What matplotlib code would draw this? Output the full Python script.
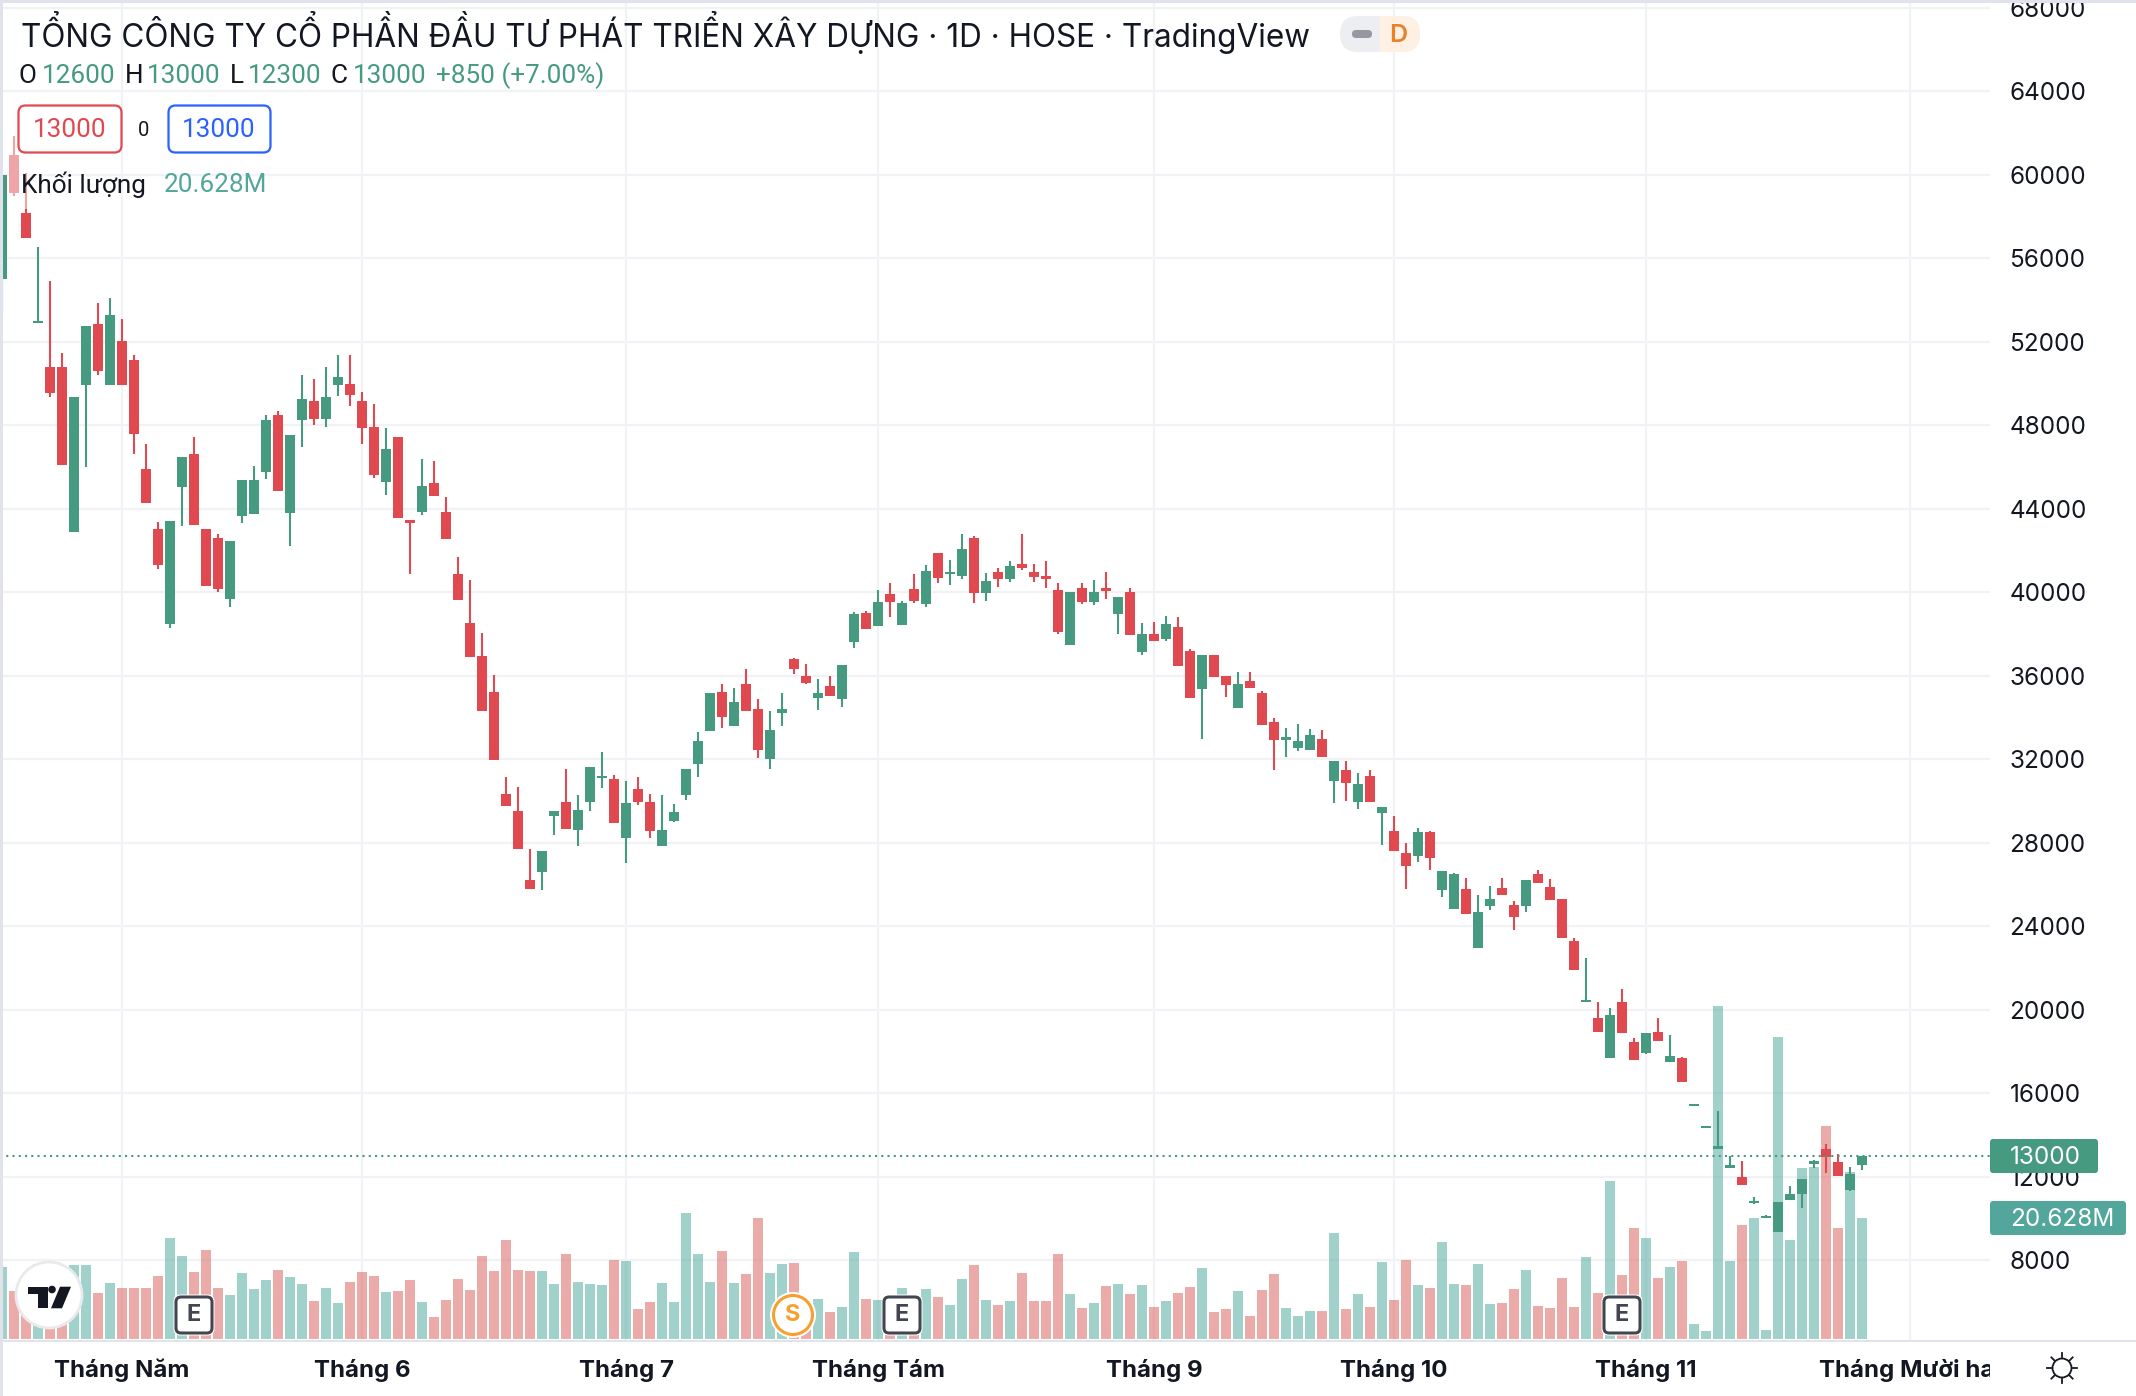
import numpy as np
import matplotlib
matplotlib.use("Agg")
import matplotlib.pyplot as plt
from matplotlib.patches import FancyBboxPatch, Rectangle, Circle, Polygon
from matplotlib.transforms import Bbox

W, H = 2136, 1396
FONT = ['Inter', 'Noto Sans', 'DejaVu Sans']
NARROW = ['Roboto', 'Noto Sans', 'DejaVu Sans']
plt.rcParams['font.family'] = FONT

# ---------- data ----------
opens = [55000,60940,58150,52900,50780,50780,42880,49930,52850,49930,52030,51130,45910,43040,38470,45040,46630,43040,42600,39670,
43650,43720,45760,48490,43810,48220,49160,48300,49930,49980,49160,47910,45280,47430,43420,43820,45240,43860,40880,38530,
36940,35220,30320,29500,26190,26580,29260,29940,28590,29940,31070,31040,28210,30560,29940,27820,29020,30270,31760,33340,
35220,33580,35600,34400,32000,34210,36800,35980,34930,35500,34880,37620,39010,38380,39920,38430,40160,39440,41890,40880,
40780,42610,39970,40980,40640,41360,40980,40780,40110,37470,40210,39540,40210,38960,40010,37130,38000,37760,38330,37180,
35360,36990,35980,34450,35740,35170,33770,32910,32530,32430,32960,30940,31470,29930,31180,29410,28540,27490,27340,28490,
25710,24800,25760,22930,24940,25810,24990,24940,26480,25850,25280,23260,20360,19580,17670,20380,18460,17900,18940,17490,
17680,15360,14300,13330,12430,11970,10750,10030,9330,10860,11150,12620,13310,12690,11340,12540]
highs = [60000,61850,60070,56530,54900,51470,49350,52750,53860,54100,53090,51360,47110,43360,43400,46470,47430,43040,42800,42450,
45380,46050,48490,48680,47530,50410,50220,50780,51360,51360,49590,49020,47880,47430,43420,46390,46290,44560,41700,40590,
38050,36030,31140,30660,27680,27580,29500,31520,30270,31620,32340,31230,30940,31140,30320,30270,29840,31520,33300,35170,
35600,35410,36320,34880,34300,35170,36850,36560,35840,35980,36510,39060,39100,40110,40450,39580,40880,41310,41890,41550,
42800,42700,40930,41170,41500,42800,41360,41500,40450,40020,40450,40590,40980,39770,40210,38530,38570,38860,38810,37280,
36990,36990,35980,36170,36170,35260,33970,33490,33680,33440,33390,31900,31900,31330,31470,29690,29260,27970,28690,28540,
26620,26530,26290,25470,25900,26290,25180,26190,26670,26240,25280,23450,22450,20380,20090,20960,18650,18860,19610,18780,
17730,15470,14410,15140,12980,12740,11010,10140,10770,11540,11870,12780,13550,13070,12450,13000]
lows = [53430,58990,56940,52900,49350,46100,42880,45990,50400,49930,49930,46630,44290,41100,38300,43170,43230,40300,40000,39300,
43290,43720,45400,44850,42230,46950,48010,47910,49400,48920,47110,45480,44660,43570,40850,43700,44610,42560,39630,36900,
34300,31950,29740,27680,25760,25710,28350,28640,27820,29500,30610,28930,27010,29790,28210,27820,28980,30030,31140,33340,
33490,33580,34300,32050,31520,33580,36080,35600,34350,35020,34500,37330,38240,38380,38820,38430,39490,39300,40450,40350,
40640,39490,39580,40260,40500,41070,40500,40210,38000,37470,39440,39390,39680,38000,37950,36990,37660,37660,36460,34930,
32960,35930,34970,34450,35410,33630,31470,32090,32380,32430,32090,29890,29980,29600,29930,27870,27580,25760,27050,26670,
25370,24800,24560,22930,24750,25470,23790,24650,26050,25230,23450,21870,20350,18940,17670,18890,17600,17850,18510,17490,
16530,15360,14300,13330,12400,11580,10700,10030,9330,10860,10480,12430,12160,12020,11300,12300]
closes = [60000,59130,56940,53000,49550,46100,49350,52750,50600,53280,49930,47590,44290,41290,43400,46470,43230,40300,40170,42450,
45380,45380,48250,44850,47530,49260,48300,49350,50300,49450,47880,45620,46870,43570,43330,45090,44610,42560,39630,36900,
34300,31950,29740,27680,25760,27580,29500,28640,29550,31620,31170,28930,29890,29940,28540,28590,29460,31520,32860,35170,
34020,34740,34300,32430,33390,34400,36320,35650,35170,35020,36510,38960,38240,39540,39540,39490,39580,41020,40690,40980,
42080,39970,40540,40640,41260,41170,40740,40640,38100,40020,39540,40020,40060,39770,37950,38000,37660,38480,36460,34930,
36990,35930,35550,35600,35410,33630,32910,33050,32860,33150,32090,31900,30850,30800,29930,29690,27580,26860,28490,27250,
26620,26480,24560,24650,25280,25470,24410,26190,26050,25230,23450,21870,20450,18940,19760,18890,17600,18860,18510,17780,
16530,15460,14400,13440,12510,11580,10850,10130,10770,11150,11870,12720,12930,12020,12110,13000]
volumes = [12.3,8.2,7.8,12.8,10.0,9.5,12.6,12.6,7.8,9.5,8.7,8.7,8.7,10.7,17.2,14.1,11.4,15.2,8.7,7.5,
11.2,8.5,10.1,11.8,10.6,9.4,6.5,8.7,6.1,9.7,11.4,10.7,8.0,8.2,10.1,6.3,3.7,6.6,10.2,8.3,
14.1,11.6,16.9,11.8,11.6,11.6,9.4,14.5,9.7,9.4,9.2,13.5,13.3,5.1,6.3,9.5,6.3,21.5,14.5,9.7,
15.0,9.5,11.1,20.6,11.2,12.8,13.0,5.0,6.8,4.6,5.5,14.8,6.8,6.6,5.5,8.7,6.0,8.5,7.2,5.8,
10.2,12.6,6.6,5.8,6.5,11.2,6.5,6.5,14.5,7.7,5.3,6.1,9.0,9.4,7.7,9.2,5.5,6.5,7.8,8.9,
12.1,4.6,5.1,8.2,3.9,8.3,11.1,5.3,3.9,4.8,4.8,18.1,5.1,7.7,5.5,13.1,6.6,13.5,9.2,8.7,
16.5,9.4,9.2,12.8,6.0,6.1,8.5,11.8,5.6,5.3,10.4,5.5,14.0,7.8,26.9,10.9,18.9,17.2,10.4,12.3,
13.3,2.6,1.4,56.7,13.3,19.4,20.6,1.5,51.5,16.9,29.1,29.3,36.3,18.9,28.5,20.628]
price_ticks = list(range(8000, 68001, 4000))
month_pos = [10, 30, 52, 73, 96, 116, 137, 159]
month_labels = ['Tháng Năm', 'Tháng 6', 'Tháng 7', 'Tháng Tám', 'Tháng 9', 'Tháng 10', 'Tháng 11', 'Tháng Mười hai']
last_price = 13000

GREEN = '#459A80'
RED = '#E0494F'
GRID = '#F1F2F5'
INK = '#131722'
BORDER = '#E0E3EB'

fig = plt.figure(figsize=(W/100, H/100), dpi=100, facecolor='white')
rect = [0, (H-1340)/H, 1990/W, 1340/H]
xlim = (-2/12, 1988/12)
ylim = (4167, 68366)

# base axes: grid, ticks
ax_bg = fig.add_axes(rect, zorder=1)
ax_bg.set_xlim(*xlim); ax_bg.set_ylim(*ylim)
for s in ax_bg.spines.values():
    s.set_visible(False)
ax_bg.yaxis.tick_right()
ax_bg.set_yticks(price_ticks)
ax_bg.set_yticklabels([str(p) for p in price_ticks], fontsize=17.5, color=INK)
ax_bg.tick_params(axis='y', length=0, pad=14)
ax_bg.set_xticks(month_pos)
ax_bg.set_xticklabels(month_labels, fontsize=17.3, fontweight='bold', color=INK)
ax_bg.tick_params(axis='x', length=0, pad=13.5)
ax_bg.grid(True, color=GRID, lw=1.6)
ax_bg.set_axisbelow(True)
for lab in ax_bg.get_xticklabels():
    lab.set_clip_on(True)
    lab.set_clip_box(Bbox([[0, 0], [1990, H]]))

x = np.arange(len(closes))
o, h, l, c = map(np.array, (opens, highs, lows, closes))
up = c >= o

# volume axes
ax_v = fig.add_axes(rect, zorder=2)
ax_v.patch.set_alpha(0)
ax_v.axis('off')
ax_v.set_xlim(*xlim)
ax_v.set_ylim(-0.17, 228.3)
ax_v.bar(x, volumes, width=10/12, color=np.where(up, '#45A599', '#D95953'), alpha=0.5, linewidth=0)

# candle axes
ax = fig.add_axes(rect, zorder=3)
ax.patch.set_alpha(0)
ax.axis('off')
ax.set_xlim(*xlim); ax.set_ylim(*ylim)
cols = np.where(up, GREEN, RED)
ax.vlines(x, l, h, colors=cols, lw=1.5)
ax.bar(x, np.maximum(np.abs(c-o), 100), bottom=np.minimum(o, c), width=10/12, color=cols, linewidth=0)
ax.axhline(last_price, color=GREEN, lw=1.5, linestyle=(0, (1, 2)))

# overlay in pixel coordinates for chart furniture and text
ov = fig.add_axes([0, 0, 1, 1], zorder=5)
ov.patch.set_alpha(0)
ov.axis('off')
ov.set_xlim(0, W); ov.set_ylim(H, 0)

def T(px, py, s, color=INK, size=17.5, ha='left', va='center', weight='normal', family=None):
    return ov.text(px, py, s, color=color, fontsize=size, ha=ha, va=va, fontweight=weight, family=family or FONT)

def box(x0, y0, x1, y1, fc, ec='none', lw=0, r=4, z=2):
    p = FancyBboxPatch((x0+r, y0+r), x1-x0-2*r, y1-y0-2*r, boxstyle=f'round,pad={r},rounding_size={r}',
                       fc=fc, ec=ec, lw=lw, zorder=z, mutation_aspect=1)
    ov.add_patch(p)
    return p

# borders
ov.add_patch(Rectangle((0, 0), W, 2.5, fc=BORDER, ec='none'))
ov.add_patch(Rectangle((0, 0), 2.5, H, fc=BORDER, ec='none'))
ov.add_patch(Rectangle((0, 1339.5), W, 2.2, fc=BORDER, ec='none'))

# legend fade over first candles
ov.add_patch(Rectangle((8, 100), 24, 109, fc='white', alpha=0.5, ec='none'))

# title and OHLC row
T(21, 32, 'TỔNG CÔNG TY CỔ PHẦN ĐẦU TƯ PHÁT TRIỂN XÂY DỰNG · 1D · HOSE · TradingView', size=22.7)
for px, s, col in [(18, 'O', INK), (42, '12600', GREEN), (125, 'H', INK), (147, '13000', GREEN),
                   (230, 'L', INK), (248, '12300', GREEN), (331, 'C', INK), (353, '13000', GREEN),
                   (436, '+850 (+7.00%)', GREEN)]:
    T(px, 76, s, color=col, size=18.8, family=NARROW)

# pill
ov.add_patch(FancyBboxPatch((1358, 34), 44, 0.01, boxstyle='round,pad=18,rounding_size=18', fc='#EDEEF1', ec='none', zorder=2))
clip = Rectangle((1380, 0), 60, 70, transform=ov.transData)
orange = FancyBboxPatch((1358, 34), 44, 0.01, boxstyle='round,pad=18,rounding_size=18', fc='#FEF1E3', ec='none', zorder=3)
ov.add_patch(orange); orange.set_clip_path(clip)
box(1352, 30, 1372, 38, '#9598A1', r=4, z=4)
T(1398, 36, 'D', color='#E8812A', size=18, ha='center', weight='semibold').set_zorder(5)

# order boxes
box(18.5, 105.5, 121.5, 152.5, 'white', ec='#E0494F', lw=1.6, r=7)
T(70, 130, '13000', color='#E0494F', size=18.8, ha='center', family=NARROW)
T(144, 130, '0', size=14.5, ha='center', family=NARROW)
box(168.5, 105.5, 270.5, 152.5, 'white', ec='#2962FF', lw=1.6, r=7)
T(219, 130, '13000', color='#2962FF', size=18.8, ha='center', family=NARROW)

# volume legend
T(21, 185, 'Khối lượng', size=18.8, family=NARROW)
T(164, 185, '20.628M', color='#53A69C', size=18.8, family=NARROW)

# price labels
box(1990, 1139, 2098, 1173, GREEN, r=3, z=3)
T(2010, 1158, '13000', color='white', size=17.5).set_zorder(4)
box(1990, 1201, 2126, 1235, '#53A69C', r=3, z=3)
T(2010, 1219, '20.628M', color='white', size=17.5).set_zorder(4)

# TradingView logo
ov.add_patch(Circle((49, 1295), 33, fc='white', ec='#E9EAEC', lw=2, zorder=3))
ov.add_patch(Polygon([(28, 1286.7), (48, 1286.7), (48, 1308.3), (37.5, 1308.3), (37.5, 1294), (28, 1294)], fc=INK, ec='none', zorder=4))
ov.add_patch(Circle((52, 1289.5), 3.8, fc=INK, ec='none', zorder=4))
ov.add_patch(Polygon([(60, 1286.7), (71, 1286.7), (62, 1308.3), (51, 1308.3)], fc=INK, ec='none', zorder=4))

# earnings markers
for cx in (194, 902, 1622):
    box(cx-20.5, 1294.5, cx+20.5, 1335.5, 'white', r=7, z=3)
    box(cx-18, 1297, cx+18, 1333, 'white', ec='#434651', lw=2.2, r=5, z=4)
    T(cx, 1315, 'E', color='#434651', size=17, ha='center', weight='bold').set_zorder(5)
# split marker
ov.add_patch(Circle((793, 1315), 23, fc='white', ec='none', zorder=3))
ov.add_patch(Circle((793, 1315), 19.5, fc='white', ec='#F7A030', lw=2.2, zorder=4))
T(793, 1315, 'S', color='#F7A030', size=17, ha='center', weight='bold').set_zorder(5)

# sun icon
sx, sy = 2062, 1368
ov.add_patch(Circle((sx, sy), 9.5, fc='white', ec=INK, lw=1.3))
for ang in np.arange(0, 360, 45):
    a = np.deg2rad(ang)
    ov.plot([sx+11*np.cos(a), sx+15*np.cos(a)], [sy+11*np.sin(a), sy+15*np.sin(a)], color=INK, lw=1.3)
ov.set_xlim(0, W); ov.set_ylim(H, 0)

fig.savefig('out.png', dpi=100, facecolor='white')
